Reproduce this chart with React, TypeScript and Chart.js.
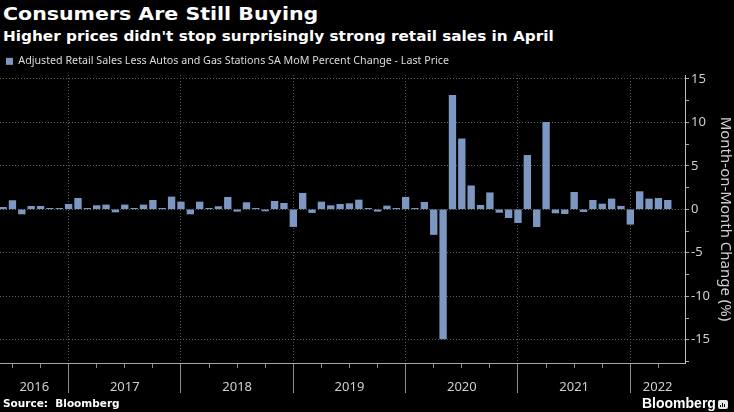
import React, { useEffect, useRef } from 'react';
import { Chart, registerables } from 'chart.js';

Chart.register(...registerables);

// ---------- text ----------
const TITLE = 'Consumers Are Still Buying';
const SUBTITLE = "Higher prices didn't stop surprisingly strong retail sales in April";
const SERIES_LABEL = 'Adjusted Retail Sales Less Autos and Gas Stations SA MoM Percent Change - Last Price';
const Y_TITLE = 'Month-on-Month Change (%)';
const SOURCE = 'Source:\u00a0\u00a0Bloomberg';
const BRAND = 'Bloomberg';

// ---------- data (month-on-month % change, first month = May 2016) ----------
const FIRST_YEAR = 2016;
const FIRST_MONTH = 5; // May
const years = ['2016', '2017', '2018', '2019', '2020', '2021', '2022'];
const mom2016 = [0.23, 1.0, -0.54, 0.34, 0.34, 0.11, 0.11, 0.57]; // May-Dec
const mom2017 = [1.26, 0.11, 0.42, 0.5, -0.31, 0.5, 0.03, 0.5, 1.03, 0.03, 1.42, 0.84];
const mom2018 = [-0.54, 0.84, 0.03, 0.31, 1.38, -0.23, 0.77, 0.03, -0.19, 0.92, 0.69, -1.99];
const mom2019 = [1.84, -0.38, 0.84, 0.42, 0.57, 0.65, 1.07, 0.08, -0.23, 0.38, 0.03, 1.38];
const mom2020 = [0.03, 0.8, -2.9, -14.9, 13.1, 8.1, 2.7, 0.46, 1.9, -0.35, -0.96, -1.53];
const mom2021 = [6.2, -2.0, 10.0, -0.42, -0.5, 1.95, -0.27, 1.03, 0.61, 1.19, 0.35, -1.72];
const mom2022 = [2.03, 1.19, 1.26, 1.03]; // Jan-Apr

// axis ranges (x in months since May 2016)
const X_MIN = -0.33;
const X_MAX = 72.84;
const Y_MIN = -17.67;
const Y_MAX = 15.44;
const Y_STEP = 2.5;
const Y_LABEL_STEP = 5;

const BAR_COLOR = '#7c97c2';
const GRID_COLOR = '#5c5c5c';
const AXIS_COLOR = '#bdbdbd';
const TEXT_COLOR = '#cfcfcf';

const values = [...mom2016, ...mom2017, ...mom2018, ...mom2019, ...mom2020, ...mom2021, ...mom2022];
const points = values.map((v, i) => ({ x: i, y: v }));

const monthOf = (v: number) => (((FIRST_MONTH - 1 + v) % 12) + 12) % 12; // 0 = Jan
const isInt = (v: number) => Math.abs(v - Math.round(v)) < 1e-9;
const isDec = (v: number) => isInt(v) && monthOf(Math.round(v)) === 11;
const isQuarter = (v: number) => isInt(v) && [2, 5, 8].includes(monthOf(Math.round(v)));

// year label positions: centre of visible span between December boundaries
const decIndex = (yr: number) => (yr - FIRST_YEAR) * 12 + (12 - FIRST_MONTH);
const yearLabelAt: { value: number; label: string }[] = years.map((y) => {
  const yr = Number(y);
  const a = Math.max(X_MIN, decIndex(yr - 1));
  const b = Math.min(X_MAX, decIndex(yr));
  return { value: (a + b) / 2, label: y };
});

const xTickValues: number[] = (() => {
  const set: number[] = [];
  for (let i = 0; i <= Math.floor(X_MAX); i++) {
    if (isDec(i) || isQuarter(i)) set.push(i);
  }
  yearLabelAt.forEach((l) => {
    if (!set.some((v) => Math.abs(v - l.value) < 1e-9)) set.push(l.value);
  });
  return set.sort((a, b) => a - b);
})();

const yTickValues: number[] = (() => {
  const arr: number[] = [];
  for (let v = Math.ceil(Y_MIN / Y_STEP) * Y_STEP; v <= Y_MAX + 1e-9; v += Y_STEP) arr.push(Math.round(v * 100) / 100);
  return arr;
})();

const labelFor = (v: number) => {
  const hit = yearLabelAt.find((l) => Math.abs(l.value - v) < 1e-9);
  return hit ? hit.label : '';
};

export default function App() {
  const ref = useRef<HTMLCanvasElement | null>(null);

  useEffect(() => {
    document.body.style.margin = '0';
    document.body.style.background = '#000';
    if (!ref.current) return;
    Chart.defaults.font.family = '"Noto Sans", sans-serif';
    const chart = new Chart(ref.current, {
      type: 'bar',
      data: {
        datasets: [
          {
            label: SERIES_LABEL,
            data: points,
            backgroundColor: BAR_COLOR,
            borderWidth: 0,
            barThickness: 6.7,
            minBarLength: 1,
          },
        ],
      },
      options: {
        animation: false,
        responsive: false,
        maintainAspectRatio: false,
        layout: { padding: 0 },
        plugins: {
          tooltip: { enabled: false },
          title: { display: false },
          legend: {
            display: true,
            position: 'top',
            align: 'start',
            maxHeight: 25,
            labels: {
              boxWidth: 7,
              boxHeight: 7,
              padding: 6,
              color: '#dcdcdc',
              font: { size: 10.7, family: '"Noto Sans", sans-serif' },
            },
          },
        },
        scales: {
          x: {
            type: 'linear',
            min: X_MIN,
            max: X_MAX,
            bounds: 'data',
            offset: false,
            afterBuildTicks: (scale: any) => {
              scale.ticks = xTickValues.map((v) => ({ value: v }));
            },
            afterFit: (scale: any) => {
              scale.height = 49;
            },
            grid: {
              offset: false,
              drawOnChartArea: true,
              color: (ctx: any) => (ctx.tick && isDec(ctx.tick.value) ? GRID_COLOR : 'rgba(0,0,0,0)'),
              tickColor: (ctx: any) =>
                ctx.tick && (isDec(ctx.tick.value) || isQuarter(ctx.tick.value)) ? '#8c8c8c' : 'rgba(0,0,0,0)',
              tickBorderDash: (ctx: any) => (ctx.tick && isQuarter(ctx.tick.value) ? [4, 60] : []),
              tickLength: 30,
              lineWidth: 1,
            },
            border: { display: true, color: '#a8a8a8', width: 1, dash: [1, 2] },
            ticks: {
              autoSkip: false,
              maxRotation: 0,
              minRotation: 0,
              padding: -14,
              color: TEXT_COLOR,
              font: { size: 13 },
              callback: (v: any) => labelFor(Number(v)),
            },
          },
          y: {
            type: 'linear',
            position: 'right',
            min: Y_MIN,
            max: Y_MAX,
            bounds: 'data',
            afterBuildTicks: (scale: any) => {
              scale.ticks = yTickValues.map((v) => ({ value: v }));
            },
            afterFit: (scale: any) => {
              scale.width = 49;
            },
            grid: {
              color: (ctx: any) =>
                ctx.tick && Math.abs(ctx.tick.value % Y_LABEL_STEP) < 1e-9 ? GRID_COLOR : 'rgba(0,0,0,0)',
              tickColor: '#a8a8a8',
              tickLength: 4,
              lineWidth: 1,
            },
            border: { display: true, color: AXIS_COLOR, width: 1, dash: [1, 2] },
            ticks: {
              autoSkip: false,
              padding: 2,
              color: TEXT_COLOR,
              font: { size: 13 },
              callback: (v: any) => {
                const n = Number(v);
                return Math.abs(n % Y_LABEL_STEP) < 1e-9 ? String(n) : '';
              },
            },
            title: {
              display: true,
              text: Y_TITLE,
              color: TEXT_COLOR,
              font: { size: 15 },
              padding: { top: 0, bottom: 0 },
            },
          },
        },
      },
    } as any);
    return () => chart.destroy();
  }, []);

  return (
    <div style={{ position: 'relative', width: 734, height: 412, background: '#000', overflow: 'hidden' }}>
      <div
        style={{
          position: 'absolute',
          left: 3,
          top: 5,
          fontFamily: '"DejaVu Sans", sans-serif',
          fontWeight: 700,
          fontSize: 18,
          lineHeight: '18px',
          color: '#fff',
          whiteSpace: 'nowrap',
          transform: 'scaleX(1.14)',
          transformOrigin: '0 0',
        }}
      >
        {TITLE}
      </div>
      <div
        style={{
          position: 'absolute',
          left: 3,
          top: 29,
          fontFamily: '"DejaVu Sans", sans-serif',
          fontWeight: 700,
          fontSize: 14,
          lineHeight: '14px',
          color: '#fff',
          whiteSpace: 'nowrap',
          transform: 'scaleX(1.09)',
          transformOrigin: '0 0',
        }}
      >
        {SUBTITLE}
      </div>
      <canvas
        ref={ref}
        width={734}
        height={362}
        style={{ position: 'absolute', left: 0, top: 50, width: 734, height: 362 }}
      />
      <div
        style={{
          position: 'absolute',
          left: 3,
          top: 398,
          fontFamily: '"DejaVu Sans", sans-serif',
          fontWeight: 700,
          fontSize: 10.5,
          lineHeight: '10.5px',
          color: '#fff',
          whiteSpace: 'nowrap',
        }}
      >
        {SOURCE}
      </div>
      <div
        style={{
          position: 'absolute',
          left: 642,
          top: 396,
          fontFamily: '"Liberation Sans", Arial, sans-serif',
          fontWeight: 700,
          fontSize: 14,
          lineHeight: '14px',
          color: '#fff',
          whiteSpace: 'nowrap',
        }}
      >
        {BRAND}
      </div>
      <div
        style={{
          position: 'absolute',
          left: 718,
          top: 400,
          width: 10,
          height: 9,
          background: '#e6e6e6',
          borderRadius: 2,
        }}
      >
        <div style={{ position: 'absolute', left: 2, top: 5, width: 1, height: 2, background: '#000' }} />
        <div style={{ position: 'absolute', left: 4, top: 3, width: 1, height: 4, background: '#000' }} />
        <div style={{ position: 'absolute', left: 6, top: 4, width: 1, height: 3, background: '#000' }} />
      </div>
    </div>
  );
}
